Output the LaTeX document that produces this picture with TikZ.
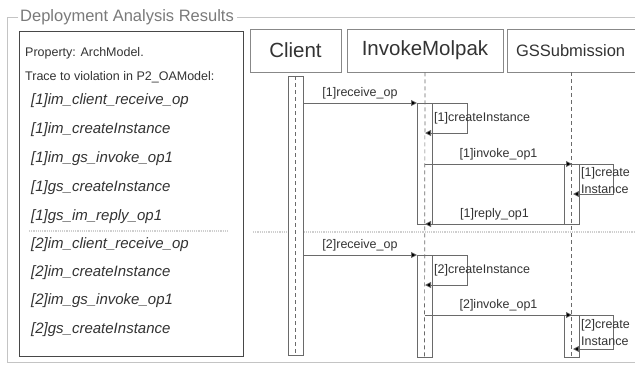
\documentclass[tikz,border=0pt]{standalone}
\usepackage{fontspec}
\setmainfont{Liberation Sans}
\usetikzlibrary{arrows.meta}
\definecolor{framegray}{HTML}{C4C4C4}
\definecolor{titlegray}{HTML}{7A7A7A}
\definecolor{inkgray}{HTML}{333333}
\definecolor{linegray}{HTML}{6A6A6A}
\definecolor{sepgray}{HTML}{CFCFCF}
\begin{document}
\begin{tikzpicture}[x=1pt,y=-1pt,
  frameline/.style={draw=framegray, line width=0.9pt},
  tracebox/.style={draw=inkgray!90, line width=1.1pt, anchor=north west, inner sep=0pt},
  infotext/.style={anchor=west, inner sep=0pt, text=inkgray, font=\fontsize{12.5}{14}\selectfont},
  traceitem/.style={anchor=west, inner sep=0pt, text=inkgray, font=\fontsize{15}{18}\selectfont\itshape},
  header/.style={draw=linegray!80, line width=0.7pt, fill=white, text=inkgray, inner sep=0pt},
  activation/.style={draw=linegray, line width=0.7pt, fill=white},
  lifeline/.style={draw=linegray, line width=0.7pt, dash pattern=on 4pt off 3pt},
  msg/.style={draw=linegray, line width=0.7pt, -{Triangle[length=6pt,width=6pt,fill=black]}},
  msglabel/.style={inner sep=0pt, text=inkgray, font=\fontsize{12.5}{14}\selectfont},
  separator/.style={draw=sepgray, line width=1.2pt, dash pattern=on 1.2pt off 1pt}
]
\useasboundingbox (0,0) rectangle (635,365);
\fill[white] (0,0) rectangle (635,365);

% group frame with its title
\node[anchor=west, inner sep=0pt, text=titlegray, font=\fontsize{16.5}{19}\selectfont] (title) at (20,17) {Deployment Analysis Results};
\coordinate (fTL) at (7,17);
\coordinate (fBL) at (7,362);
\coordinate (fBR) at (640,362);
\coordinate (fTR) at (640,17);
\draw[frameline] ([xshift=-2pt]title.west) -- (fTL) -- (fBL) -- (fBR);
\draw[frameline] ([xshift=3pt]title.east) -- (fTR);

% trace listing
\node[tracebox, minimum width=224pt, minimum height=325pt] (trace) at (19,31) {};
\node[infotext] (prop) at (25,53) {Property: ArchModel.};
\node[infotext] (viol) at (25,77) {Trace to violation in P2\_OAModel:};
\node[traceitem] (t1) at (31,101) {[1]im\_client\_receive\_op};
\node[traceitem] (t2) at (31,130) {[1]im\_createInstance};
\node[traceitem] (t3) at (31,159) {[1]im\_gs\_invoke\_op1};
\node[traceitem] (t4) at (31,188) {[1]gs\_createInstance};
\node[traceitem] (t5) at (31,217) {[1]gs\_im\_reply\_op1};
\node[traceitem] (t6) at (31,245) {[2]im\_client\_receive\_op};
\node[traceitem] (t7) at (31,273) {[2]im\_createInstance};
\node[traceitem] (t8) at (31,301) {[2]im\_gs\_invoke\_op1};
\node[traceitem] (t9) at (31,330) {[2]gs\_createInstance};
\coordinate (sepL1) at (29,231);
\coordinate (sepL2) at (229,231);
\draw[separator] (sepL1) -- (sepL2);

% participants
\node[header, minimum width=91pt, minimum height=43pt, font=\fontsize{20.5}{24}\selectfont] (client) at (295.5,50.5) {Client};
\node[header, minimum width=156pt, minimum height=43pt, font=\fontsize{20.5}{24}\selectfont] (im) at (425,50.5) {InvokeMolpak};
\node[header, minimum width=133pt, minimum height=43pt, font=\fontsize{16.5}{20}\selectfont, text width=129pt, align=left] (gs) at (573.5,50.5) {\hspace*{7pt}GSSubmission};

% round separator
\coordinate (sepR1) at (253,232);
\coordinate (sepR2) at (640,232);
\draw[separator] (sepR1) -- (sepR2);

% activation bars
\draw[activation] (288,76) rectangle (303,355);
\draw[activation] (417,103) rectangle (432,224);
\draw[activation] (417,255) rectangle (432,357);
\draw[activation] (564,164) rectangle (579,224);
\draw[activation] (564,315) rectangle (579,357);

% lifelines
\coordinate (cEnd) at (295.5,355);
\coordinate (imEnd) at (424.5,358);
\coordinate (gsEnd) at (571.5,358);
\draw[lifeline] (client.south) ++(0,4) -- (cEnd);
\draw[lifeline] (im.south) -- (imEnd);
\draw[lifeline] (gs.south -| gsEnd) -- (gsEnd);

% first round of messages
\coordinate (m1s) at (303,103);  \coordinate (m1e) at (417,103);
\draw[msg] (m1s) -- node[msglabel, above=4pt] (m1l) {[1]receive\_op} (m1e);

\coordinate (c1a) at (432,103); \coordinate (c1b) at (467,103);
\coordinate (c1c) at (467,133); \coordinate (c1d) at (425,133);
\draw[msg] (c1a) -- (c1b) -- (c1c) -- (c1d);
\node[msglabel, anchor=west] (c1l) at (434,118) {[1]createInstance};

\coordinate (i1s) at (425,164); \coordinate (i1e) at (572,164);
\draw[msg] (i1s) -- node[msglabel, above=4pt] (i1l) {[1]invoke\_op1} (i1e);

\coordinate (g1a) at (579,164); \coordinate (g1b) at (613,164);
\coordinate (g1c) at (613,194); \coordinate (g1d) at (573,194);
\draw[msg] (g1a) -- (g1b) -- (g1c) -- (g1d);
\node[msglabel, anchor=west] (g1l) at (581,173) {[1]create};
\node[msglabel, anchor=west] (g1m) at (581,189) {Instance};

\coordinate (r1s) at (564,224); \coordinate (r1e) at (425,224);
\draw[msg] (r1s) -- node[msglabel, above=4pt] (r1l) {[1]reply\_op1} (r1e);

% second round of messages
\coordinate (m2s) at (303,255);  \coordinate (m2e) at (417,255);
\draw[msg] (m2s) -- node[msglabel, above=4pt] (m2l) {[2]receive\_op} (m2e);

\coordinate (c2a) at (432,255); \coordinate (c2b) at (467,255);
\coordinate (c2c) at (467,285); \coordinate (c2d) at (425,285);
\draw[msg] (c2a) -- (c2b) -- (c2c) -- (c2d);
\node[msglabel, anchor=west] (c2l) at (434,270) {[2]createInstance};

\coordinate (i2s) at (425,315); \coordinate (i2e) at (572,315);
\draw[msg] (i2s) -- node[msglabel, above=4pt] (i2l) {[2]invoke\_op1} (i2e);

\coordinate (g2a) at (579,315); \coordinate (g2b) at (613,315);
\coordinate (g2c) at (613,349); \coordinate (g2d) at (573,349);
\draw[msg] (g2a) -- (g2b) -- (g2c) -- (g2d);
\node[msglabel, anchor=west] (g2l) at (581,325) {[2]create};
\node[msglabel, anchor=west] (g2m) at (581,341) {Instance};
\end{tikzpicture}
\end{document}
